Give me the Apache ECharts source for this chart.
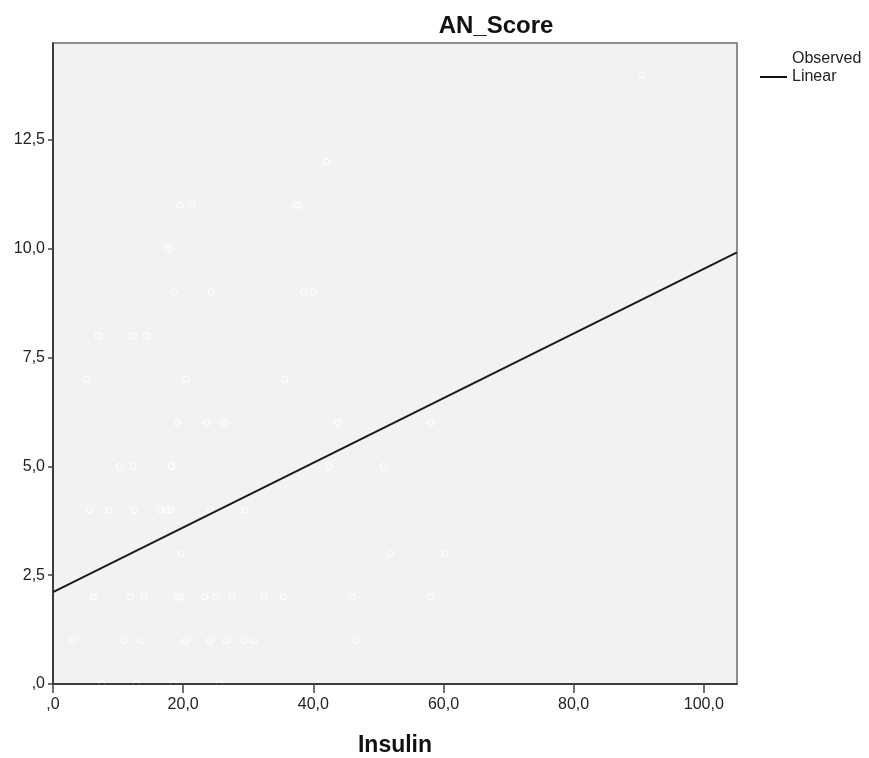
<!DOCTYPE html>
<html>
<head>
<meta charset="utf-8">
<script src="https://cdn.jsdelivr.net/npm/echarts@6/dist/echarts.min.js"></script>
<style>html,body{margin:0;padding:0;background:#fff;}#c{width:869px;height:758px;}</style>
</head>
<body>
<div id="c"></div>
<script>
// Observed points (Insulin, AN_Score)
var obsInsulin = [
  7.5, 12.8, 18.5, 25.6,
  3.0, 10.9, 13.6, 20.3, 24.0, 26.6, 29.4, 30.9, 46.6,
  6.2, 11.9, 14.0, 19.2, 19.6, 23.3, 25.0, 27.5, 32.4, 35.4, 46.0, 58.0,
  19.7, 51.8, 60.2,
  5.6, 8.6, 12.5, 16.5, 17.5, 18.1, 24.2, 29.5,
  10.2, 12.3, 18.2, 42.4, 50.8,
  19.1, 23.6, 26.3, 43.8, 58.0,
  5.1, 20.5, 35.6,
  6.9, 12.3, 14.3,
  18.6, 24.3, 38.5, 40.0,
  17.7,
  19.5, 21.4, 37.2, 37.7,
  42.0,
  90.4
];
var obsScore = [
  0, 0, 0, 0,
  1, 1, 1, 1, 1, 1, 1, 1, 1,
  2, 2, 2, 2, 2, 2, 2, 2, 2, 2, 2, 2,
  3, 3, 3,
  4, 4, 4, 4, 4, 4, 4, 4,
  5, 5, 5, 5, 5,
  6, 6, 6, 6, 6,
  7, 7, 7,
  8, 8, 8,
  9, 9, 9, 9,
  10,
  11, 11, 11, 11,
  12,
  14
];
// Linear fit endpoints
var fitInsulin = [0, 105.1];
var fitScore = [2.11, 9.92];
// Axis ticks
var xTicks = [0, 20, 40, 60, 80, 100];
var yTicks = [0, 2.5, 5, 7.5, 10, 12.5];

function fmt(v) {
  if (v === 0) return ',0';
  return v.toFixed(1).replace('.', ',');
}

var obsData = obsInsulin.map(function (x, i) { return [x, obsScore[i]]; });
var fitData = fitInsulin.map(function (x, i) { return [x, fitScore[i]]; });

var chart = echarts.init(document.getElementById('c'), null, {renderer: 'canvas'});
var fontFam = '"Liberation Sans", Arial, sans-serif';
chart.setOption({
  animation: false,
  backgroundColor: '#ffffff',
  textStyle: {fontFamily: fontFam},
  title: {
    text: 'AN_Score',
    left: 491,
    top: 9,
    textAlign: 'center',
    textStyle: {fontFamily: fontFam, fontSize: 24, fontWeight: 'bold', color: '#111'}
  },
  legend: {
    orient: 'vertical',
    left: 755,
    top: 46,
    itemWidth: 27,
    itemHeight: 2,
    itemGap: 2,
    textStyle: {fontFamily: fontFam, fontSize: 16, color: '#222'},
    data: [
      {name: 'Observed', icon: 'circle', itemStyle: {color: '#ffffff', borderWidth: 0}},
      {name: 'Linear', icon: 'rect', itemStyle: {color: '#111'}}
    ]
  },
  grid: {
    left: 53, right: 132, top: 43, bottom: 74,
    containLabel: false,
    outerBoundsMode: 'none',
    show: true,
    backgroundColor: '#f2f2f2',
    borderColor: '#6e6e6e',
    borderWidth: 1.5
  },
  xAxis: {
    type: 'value',
    min: 0, max: 105.1,
    z: 10,
    name: 'Insulin',
    nameLocation: 'middle',
    nameGap: 50,
    nameTextStyle: {fontFamily: fontFam, fontSize: 23, fontWeight: 'bold', color: '#111'},
    axisLine: {show: true, onZero: false, lineStyle: {color: '#222', width: 1.5}},
    axisTick: {show: true, length: 9, inside: false, customValues: xTicks, lineStyle: {color: '#444', width: 1.5}},
    axisLabel: {customValues: xTicks, margin: 13, fontSize: 16, color: '#222', fontFamily: fontFam, formatter: fmt},
    splitLine: {show: false}
  },
  yAxis: {
    type: 'value',
    min: 0, max: 14.73,
    z: 10,
    axisLine: {show: true, onZero: false, lineStyle: {color: '#222', width: 1.5}},
    axisTick: {show: true, length: 5, inside: false, customValues: yTicks, lineStyle: {color: '#444', width: 1.5}},
    axisLabel: {customValues: yTicks, margin: 8, fontSize: 16, color: '#222', fontFamily: fontFam, formatter: fmt},
    splitLine: {show: false}
  },
  series: [
    {
      name: 'Observed',
      type: 'scatter',
      data: obsData,
      symbol: 'circle',
      symbolSize: 6,
      itemStyle: {color: 'rgba(242,242,242,0)', borderColor: '#ffffff', borderWidth: 1.2},
      z: 2
    },
    {
      name: 'Linear',
      type: 'line',
      data: fitData,
      showSymbol: false,
      symbol: 'none',
      lineStyle: {color: '#1a1a1a', width: 2},
      itemStyle: {color: '#1a1a1a'},
      z: 3
    }
  ]
});
</script>
</body>
</html>
